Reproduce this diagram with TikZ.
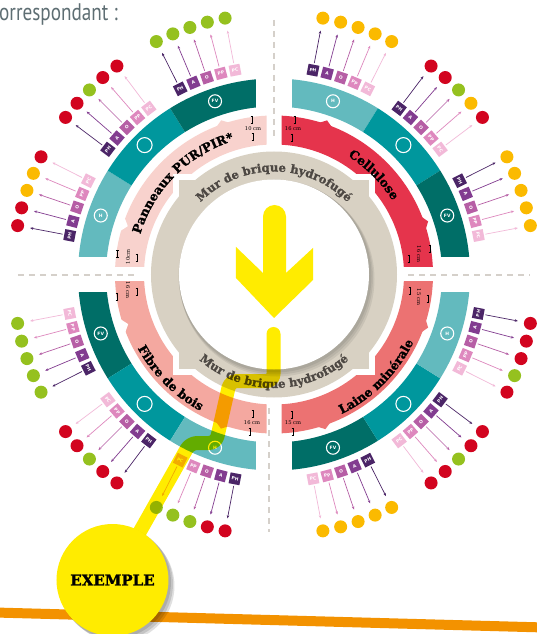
\documentclass[tikz,border=0pt]{standalone}
\usepackage{fontspec}
\usepackage{graphicx}
\setmainfont{DejaVu Serif}
\newfontfamily\headfont{PT Sans}
\newfontfamily\boxfont{DejaVu Sans}
\newfontfamily\heavyfont[FakeBold=1.3]{DejaVu Serif Bold}
\usetikzlibrary{decorations.text,arrows.meta}
\definecolor{graybg}{HTML}{D8D1C3}
\definecolor{graytxt}{HTML}{4D4843}
\definecolor{purpink}{HTML}{F8D2CD}
\definecolor{cellred}{HTML}{E5344C}
\definecolor{fibre}{HTML}{F4A8A0}
\definecolor{laine}{HTML}{EC7272}
\definecolor{tealH}{HTML}{63BABE}
\definecolor{tealM}{HTML}{00979D}
\definecolor{tealFV}{HTML}{006E67}
\definecolor{cPH}{HTML}{4B2567}
\definecolor{cA}{HTML}{823C90}
\definecolor{cO}{HTML}{B65EA5}
\definecolor{cPP}{HTML}{DE88BE}
\definecolor{cPC}{HTML}{F2B9D8}
\definecolor{dred}{HTML}{D2041F}
\definecolor{dgreen}{HTML}{95C11F}
\definecolor{dorange}{HTML}{FBBA00}
\definecolor{ylw}{HTML}{FFEC00}
\definecolor{orangeline}{HTML}{F39200}
\definecolor{dashgray}{HTML}{D5D0CA}
\definecolor{headgray}{HTML}{5E6E73}
\newcommand\lblf{\heavyfont\fontsize{12.3}{14}\selectfont}
\newcommand\ringf{\heavyfont\fontsize{11.6}{13}\selectfont}
\newcommand\bandseg[5]{\fill[#1] (#2:#4) arc[start angle=#2,end angle=#3,radius=#4] -- (#3:#5) arc[start angle=#3,end angle=#2,radius=#5] -- cycle;}
\newcommand\insul[2]{\begin{scope}\clip #2; \fill[#1, even odd rule] (0,0) circle (159) (0,0) circle (130);\end{scope}}
\newcommand\peak[2]{\fill[#1] ({#2-2.6}:158) -- (#2:163) -- ({#2+2.6}:158) -- cycle;}
\newcommand\notch[1]{\fill[white] ({#1-2.6}:160) -- (#1:154) -- ({#1+2.6}:160) -- cycle;}
\newcommand\dimmark[3]{\draw[dimI] (#1,#2) -- (#1,#3) ({#1-1.4},#2) -- ({#1+1.4},#2) ({#1-1.4},#3) -- ({#1+1.4},#3);}
\newcommand\propgroup[8]{%
  \foreach \k/\lab/\col/\dc in {0/PH/cPH/#4,1/A/cA/#5,2/O/cO/#6,3/PP/cPP/#7,4/PC/cPC/#8}{
    \pgfmathsetmacro\ang{#2+8-4*\k}
    \node[pbox, fill=\col, rotate={\ang+(#3)}] (b#1\k) at (\ang:208) {\lab};
    \node[dot, fill=\dc] (d#1\k) at (\ang:261) {};
    \draw[parrow, \col] (b#1\k) -- (d#1\k);
  }}
\tikzset{
  pbox/.style={minimum size=11, inner sep=0, text=white, font=\boxfont\bfseries\fontsize{4.4}{4.4}\selectfont},
  dot/.style={circle, minimum size=13, inner sep=0},
  icon/.style={circle, draw=white, line width=1.1, text=white, inner sep=0, font=\boxfont\bfseries\fontsize{4.5}{4.5}\selectfont},
  parrow/.style={line width=0.7, -{Stealth[length=3.2pt,width=2.6pt]}, shorten <=1.5, shorten >=6},
  dimtxt/.style={inner sep=0, font=\fontsize{5.2}{5.2}\selectfont},
  dimI/.style={line width=0.5, black},
  dashln/.style={dashgray, line width=1.1, dash pattern=on 6 off 5},
  img/.style={shift={(-274,274.5)},yscale=-1}
}
\begin{document}
\begin{tikzpicture}[x=1pt,y=1pt]
\useasboundingbox (-274,274.5) rectangle (263,-359.5);
\fill[white] (-274,274.5) rectangle (263,-359.5);

\begin{scope}[img]
  \draw[orangeline, line width=10] (-5,612.5) -- (545,627.5);
  \draw[dashln] (274,20) -- (274,140);
  \draw[dashln] (269,408) -- (269,532);
  \draw[dashln] (18,275) -- (138,275);
  \draw[dashln] (408,275) -- (530,275);
\end{scope}

% outer bands
\begin{scope}\clip (-300,18) rectangle (-18,300);
  \bandseg{tealH}{148}{180}{168}{196}\bandseg{tealM}{122}{148}{168}{196}\bandseg{tealFV}{90}{122}{168}{196}
\end{scope}
\begin{scope}\clip (18,18) rectangle (300,300);
  \bandseg{tealH}{58}{90}{168}{196}\bandseg{tealM}{32}{58}{168}{196}\bandseg{tealFV}{0}{32}{168}{196}
\end{scope}
\begin{scope}\clip (-300,-18) rectangle (-18,-300);
  \bandseg{tealFV}{180}{212}{168}{196}\bandseg{tealM}{212}{238}{168}{196}\bandseg{tealH}{238}{270}{168}{196}
\end{scope}
\begin{scope}\clip (18,-18) rectangle (300,-300);
  \bandseg{tealFV}{270}{302}{168}{196}\bandseg{tealM}{302}{328}{168}{196}\bandseg{tealH}{328}{360}{168}{196}
\end{scope}

% insulation bands
\insul{purpink}{(-300,7.5) rectangle (-7.5,300)}
\insul{cellred}{(7.5,7.5) rectangle (300,300)}
\insul{fibre}{(-300,-7.5) rectangle (-7.5,-300)}
\insul{laine}{(7.5,-7.5) rectangle (300,-300)}
\peak{purpink}{108.9}\notch{161.7}
\peak{cellred}{71}\peak{cellred}{19}
\notch{198.8}\peak{fibre}{251}
\peak{laine}{341}\peak{laine}{288.4}

% brick wall
\filldraw[fill=graybg, draw=white, line width=6] (-97.5,-97.5) rectangle (97.5,97.5);
\fill[graybg] (0,0) circle (123);
\fill[black,opacity=0.07] (1,-1.5) circle (96.5);
\fill[black,opacity=0.07] (2,-3) circle (97);
\fill[black,opacity=0.07] (3,-4.5) circle (97.5);
\fill[white] (0,0) circle (95);
\path[decorate, decoration={text along path, text color=graytxt, text={|\ringf|Mur de brique hydrofugé}, text align=center}]
  (180:103) arc[start angle=180, end angle=0, radius=103];
\path[decorate, decoration={text along path, text color=graytxt, text={|\ringf|Mur de brique hydrofugé}, text align=center}]
  (180:113.5) arc[start angle=180, end angle=360, radius=113.5];

% big yellow arrow
\fill[ylw] (-11,1.5) -- (-11,58) arc[start angle=180, end angle=0, radius=11.5] -- (12,1.5) -- (39,26.5) -- (39,-5.5) -- (0,-43.5) -- (-38,-3.5) -- (-38,27.5) -- cycle;

% icons
\node[icon, minimum size=13] (iTLH) at (161.2:183) {H};
\node[icon, minimum size=15] (iTLM) at (135:183) {};
\node[icon, minimum size=13] (iTLF) at (108.8:183) {FV};
\node[icon, minimum size=13] (iTRH) at (71.2:183) {H};
\node[icon, minimum size=15] (iTRM) at (45:183) {};
\node[icon, minimum size=13] (iTRF) at (18.8:183) {FV};
\node[icon, minimum size=13] (iBLF) at (198.8:183) {FV};
\node[icon, minimum size=15] (iBLM) at (225:183) {};
\node[icon, minimum size=13] (iBLH) at (251.2:183) {H};
\node[icon, minimum size=13] (iBRF) at (288.8:183) {FV};
\node[icon, minimum size=15] (iBRM) at (315:183) {};
\node[icon, minimum size=13] (iBRH) at (341.2:183) {H};

% property groups
\propgroup{tlh}{161.2}{-90}{dred}{dred}{dorange}{dorange}{dred}
\propgroup{tlm}{135}{-90}{dred}{dred}{dgreen}{dred}{dred}
\propgroup{tlf}{108.8}{-90}{dgreen}{dgreen}{dgreen}{dgreen}{dgreen}
\propgroup{trh}{71.2}{-90}{dorange}{dorange}{dorange}{dorange}{dorange}
\propgroup{trm}{45}{-90}{dred}{dred}{dgreen}{dorange}{dred}
\propgroup{trf}{18.8}{-90}{dorange}{dorange}{dorange}{dorange}{dorange}
\propgroup{blf}{198.8}{90}{dgreen}{dgreen}{dgreen}{dgreen}{dgreen}
\propgroup{blm}{225}{90}{dred}{dred}{dgreen}{dred}{dred}
\propgroup{blh}{251.2}{90}{dred}{dred}{dgreen}{dgreen}{dgreen}
\propgroup{brf}{288.8}{90}{dorange}{dorange}{dorange}{dorange}{dorange}
\propgroup{brm}{315}{90}{dred}{dred}{dgreen}{dred}{dred}
\propgroup{brh}{341.2}{90}{dred}{dred}{dred}{dgreen}{dred}

% band labels
\path[decorate, decoration={text along path, text={|\lblf|Panneaux PUR/PIR*}, text align=center}]
  (180:139.5) arc[start angle=180, end angle=90, radius=139.5];
\path[decorate, decoration={text along path, text={|\lblf|Cellulose}, text align=center}]
  (90:139.5) arc[start angle=90, end angle=0, radius=139.5];
\path[decorate, decoration={text along path, text={|\lblf|Fibre de bois}, text align=center}]
  (180:155) arc[start angle=180, end angle=270, radius=155];
\path[decorate, decoration={text along path, text={|\lblf|Laine minérale}, text align=center}]
  (270:155) arc[start angle=270, end angle=360, radius=155];

\begin{scope}[img]
  % dimension marks
  \node[dimtxt] (dTLa) at (253,128.5) {10 cm};
  \dimmark{252}{116.5}{123.5}\dimmark{253}{133.5}{140.5}
  \node[dimtxt, rotate=90] (dTLb) at (128,257) {10cm};
  \dimmark{117.5}{250}{257}\dimmark{137}{254}{261}
  \node[dimtxt] (dTRa) at (293,129) {16 cm};
  \dimmark{295}{116}{123}\dimmark{292}{134}{141}
  \node[dimtxt, rotate=-90] (dTRb) at (419,254) {16 cm};
  \dimmark{430}{245}{252}\dimmark{409}{255}{262}
  \node[dimtxt, rotate=-90] (dBLa) at (128,290) {16 cm};
  \dimmark{137}{288}{295}\dimmark{117}{293}{300}
  \node[dimtxt] (dBLb) at (252,422.5) {16 cm};
  \dimmark{253}{410.5}{417.5}\dimmark{250}{428}{435}
  \node[dimtxt, rotate=-90] (dBRa) at (419,297) {15 cm};
  \dimmark{410}{287}{294}\dimmark{428}{295}{302}
  \node[dimtxt] (dBRb) at (293,422.5) {15 cm};
  \dimmark{292}{411}{418}\dimmark{293}{428}{435}

  % example highlight path
  \coordinate (ystart) at (273.5,334);
  \coordinate (exc) at (112.5,580);
  \begin{scope}[blend mode=multiply]
    \draw[ylw, line width=14, line cap=round, line join=round, rounded corners=7]
      (ystart) -- (273.5,381) -- (230,381) -- (216,443) -- (190,443) -- (exc);
  \end{scope}
  \fill[black,opacity=0.12] (114.5,582) circle (56.5);
  \fill[black,opacity=0.12] (116.5,584) circle (56.5);
  \fill[black,opacity=0.12] (118.5,586) circle (56);
  \node[circle, fill=ylw, minimum size=112, inner sep=0, font=\heavyfont\fontsize{15}{15}\selectfont] (ex) at (exc) {EXEMPLE};

  % header
  \node[anchor=base west, inner sep=0, text=headgray] (head) at (-1,20.5)
    {\scalebox{0.8}[1]{\headfont\fontsize{24}{24}\selectfont orrespondant :}};
\end{scope}
\end{tikzpicture}
\end{document}
